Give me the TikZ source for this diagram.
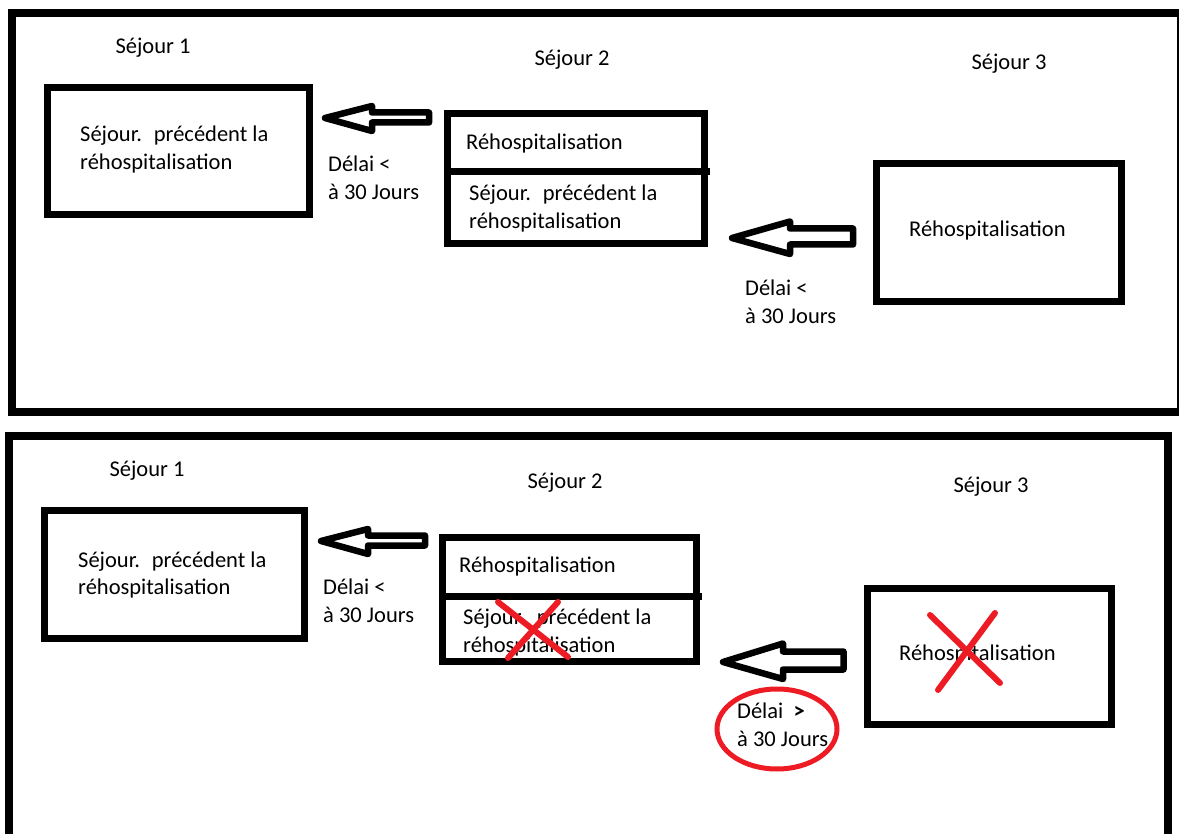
\documentclass[tikz,border=0pt]{standalone}
\usepackage{fontspec}
\setmainfont{Carlito}
\definecolor{rougepaint}{RGB}{237,28,36}

\begin{document}
\begin{tikzpicture}[x=1pt,y=-1pt,
		cadre/.style={line width=8pt},
		boite/.style={line width=7pt},
		fleche/.style={line width=6.5pt, line join=round},
		texte/.style={anchor=west, inner sep=0pt, align=left, font=\fontsize{22.5}{28}\selectfont},
		titre/.style={inner sep=0pt, font=\fontsize{22.5}{28}\selectfont},
		croix/.style={rougepaint, line width=6pt, line cap=round}]
	\useasboundingbox (0,0) rectangle (1179,834);
	\clip (0,0) rectangle (1179,834);
	
	% Cas 1 : les deux délais sont < 30 jours
	\draw[cadre] (12,13) rectangle (1181,412);
	\node[titre] (titreA1) at (153,48) {Séjour 1};
	\node[titre] (titreA2) at (572,60) {Séjour 2};
	\node[titre] (titreA3) at (1009,64) {Séjour 3};
	
	\draw[boite] (47,88) rectangle (309,215);
	\node[texte] (sejA1) at (80,150) {Séjour.~ précédent la\\réhospitalisation};
	
	\draw[boite] (447,114) rectangle (704,244);
	\draw[boite] (447,172) -- (710,172);
	\node[texte] (rehoA2) at (466,144) {Réhospitalisation};
	\node[texte] (sejA2) at (469,209) {Séjour.~ précédent la\\réhospitalisation};
	
	\draw[boite] (876,164) rectangle (1121,302);
	\node[texte] (rehoA3) at (909,231) {Réhospitalisation};
	
	\draw[fleche] (325,118) -- (372,106) -- (372,112.5) -- (429,112.5) -- (429,122.5) -- (372,122.5) -- (372,131) -- cycle;
	\node[texte] (delaiA1) at (328,178) {Délai <\\à 30 Jours};
	
	\draw[fleche] (732,238) -- (790,221.5) -- (790,228.5) -- (853,228.5) -- (853,244.5) -- (790,244.5) -- (790,254) -- cycle;
	\node[texte] (delaiA2) at (745,302) {Délai <\\à 30 Jours};
	
	% Cas 2 : le second délai est > 30 jours
	\draw[cadre] (9,436) rectangle (1168,850);
	\node[titre] (titreB1) at (147,471) {Séjour 1};
	\node[titre] (titreB2) at (565,483) {Séjour 2};
	\node[titre] (titreB3) at (991,487) {Séjour 3};
	
	\draw[boite] (44,510) rectangle (304,638);
	\node[texte] (sejB1) at (78,575) {Séjour.~ précédent la\\réhospitalisation};
	
	\draw[boite] (442,537) rectangle (696,661);
	\draw[boite] (442,596) -- (702,596);
	\node[texte] (rehoB2) at (459,567) {Réhospitalisation};
	\node[texte] (sejB2) at (463,632) {Séjour.~ précédent la\\réhospitalisation};
	
	\draw[boite] (867,588) rectangle (1111,724);
	\node[texte] (rehoB3) at (899,654) {Réhospitalisation};
	
	\draw[fleche] (321,541) -- (368,529) -- (368,535.5) -- (425,535.5) -- (425,545.5) -- (368,545.5) -- (368,554) -- cycle;
	\node[texte] (delaiB1) at (323,601) {Délai <\\à 30 Jours};
	
	\draw[fleche] (723,662) -- (783,643.5) -- (783,651.5) -- (843.5,651.5) -- (843.5,669.5) -- (783,669.5) -- (783,679) -- cycle;
	\node[texte] (delaiB2) at (737,725) {Délai~ \textbf{>}\\à 30 Jours};
	
	% marques rouges
	\draw[croix] (498,602) -- (568,657);
	\draw[croix] (558,602) -- (508,658);
	\draw[croix] (930,615) -- (1000,683);
	\draw[croix] (995,613) -- (938,690);
	\draw[rougepaint, line width=5pt] (777,729) ellipse (60 and 40);
\end{tikzpicture}
\end{document}
